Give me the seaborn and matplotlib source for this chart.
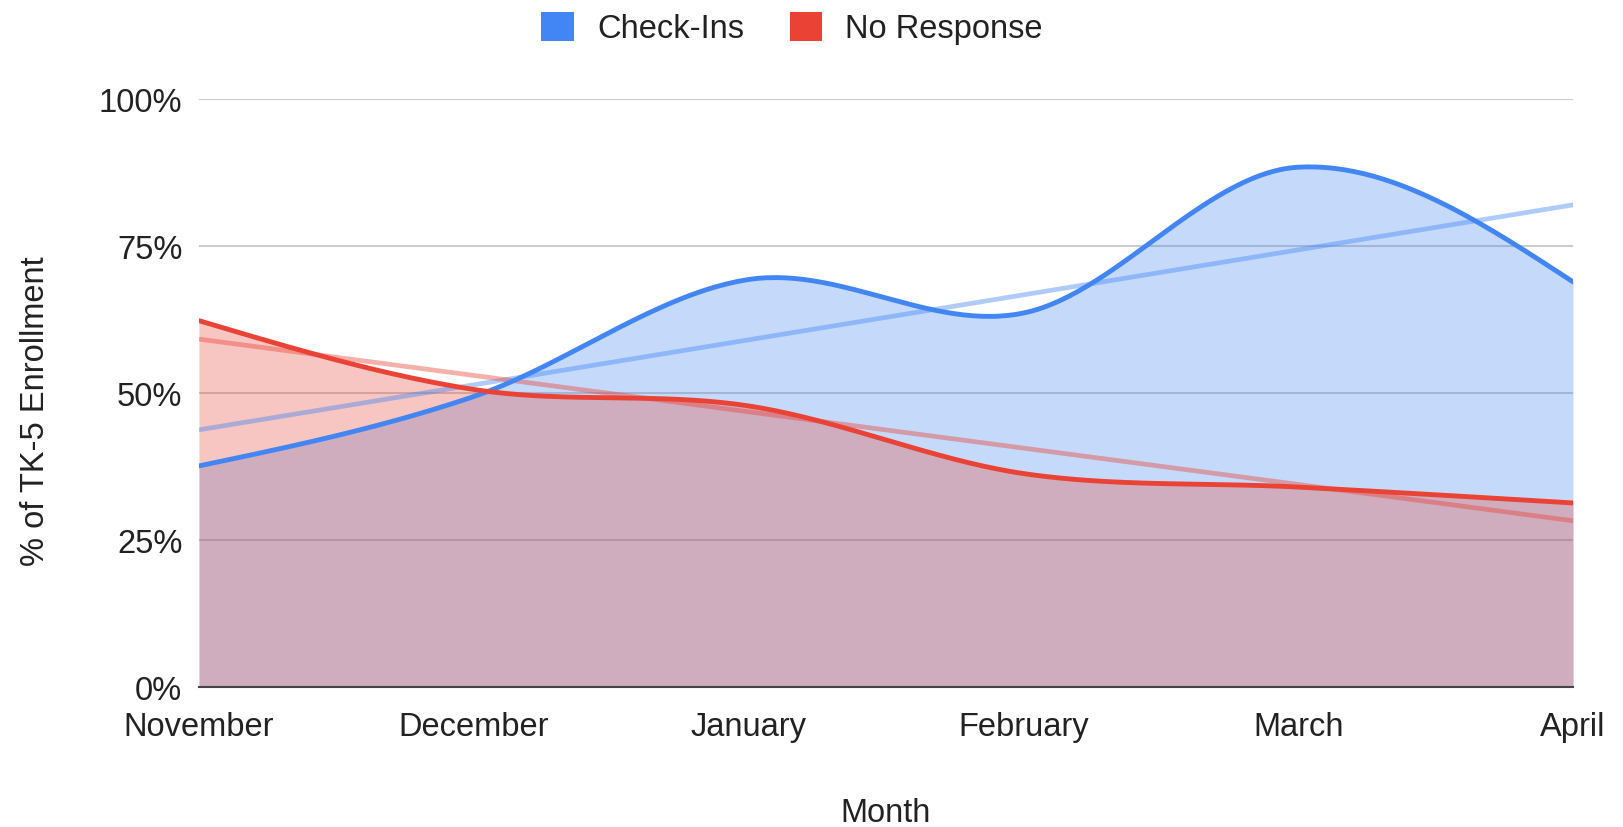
import numpy as np
import pandas as pd
import matplotlib
matplotlib.use("Agg")
import matplotlib.pyplot as plt
from matplotlib.patches import Patch
from matplotlib.ticker import FuncFormatter
import seaborn as sns

# ---- data ----
months = ["November", "December", "January", "February", "March", "April"]
check_ins = [37.6, 49.4, 69.3, 63.6, 88.4, 68.9]
no_response = [62.3, 50.6, 47.8, 36.3, 34.0, 31.3]
y_ticks = [0, 25, 50, 75, 100]
series_names = ["Check-Ins", "No Response"]

BLUE = "#4285F4"
RED = "#EA4335"
TXT = "#222222"
FS = 23.5


def smooth(vals, n=60):
    """Cubic Hermite curve through the points (chart-style smoothing)."""
    p = np.asarray(vals, float)
    k = len(p)
    m = np.zeros(k)
    m[1:-1] = (p[2:] - p[:-2]) / 2.0
    m[0] = 1.5 * (p[1] - p[0]) - 0.5 * m[1]
    m[-1] = 1.5 * (p[-1] - p[-2]) - 0.5 * m[-2]
    xs, ys = [], []
    for i in range(k - 1):
        t = np.linspace(0, 1, n, endpoint=(i == k - 2))
        h00 = 2 * t**3 - 3 * t**2 + 1
        h10 = t**3 - 2 * t**2 + t
        h01 = -2 * t**3 + 3 * t**2
        h11 = t**3 - t**2
        ys.append(h00 * p[i] + h10 * m[i] + h01 * p[i + 1] + h11 * m[i + 1])
        xs.append(i + t)
    return np.concatenate(xs), np.concatenate(ys)


sns.set_theme(style="white")
plt.rcParams["font.family"] = ["Liberation Sans", "DejaVu Sans"]

fig = plt.figure(figsize=(16.23, 8.28), dpi=100)
ax = fig.add_axes([199 / 1623, 1 - 688 / 828, 1374 / 1623, 588 / 828])

idx = np.arange(len(months))
bx, by = smooth(check_ins)
rx, ry = smooth(no_response)

# areas
ax.fill_between(bx, 0, by, color=BLUE, alpha=0.3, linewidth=0, zorder=1)
ax.fill_between(rx, 0, ry, color=RED, alpha=0.3, linewidth=0, zorder=1.1)

# trend lines
sns.regplot(x=idx, y=check_ins, scatter=False, ci=None, truncate=True, ax=ax,
            line_kws=dict(color=BLUE, alpha=0.42, lw=3.4, zorder=2))
sns.regplot(x=idx, y=no_response, scatter=False, ci=None, truncate=True, ax=ax,
            line_kws=dict(color=RED, alpha=0.42, lw=3.4, zorder=2))

# smoothed series lines
sns.lineplot(x=bx, y=by, color=BLUE, lw=3.5, ax=ax, zorder=3, sort=False)
sns.lineplot(x=rx, y=ry, color=RED, lw=3.5, ax=ax, zorder=3.1, sort=False)

ax.set_xlim(0, len(months) - 1)
ax.set_ylim(0, 100)
ax.set_xticks(idx)
ax.set_xticklabels(months)
ax.set_yticks(y_ticks)
ax.yaxis.set_major_formatter(FuncFormatter(lambda v, _: f"{v:.0f}%"))

ax.grid(axis="y", color="#cccccc", lw=1.5)
ax.grid(axis="x", visible=False)
ax.set_axisbelow(True)
for s in ["top", "right", "left"]:
    ax.spines[s].set_visible(False)
ax.spines["bottom"].set_color("#444444")
ax.spines["bottom"].set_linewidth(1.5)
ax.spines["bottom"].set_zorder(4)

ax.tick_params(axis="both", length=0, labelsize=FS, labelcolor=TXT)
ax.tick_params(axis="x", pad=17.5)
ax.tick_params(axis="y", pad=12)

ax.set_xlabel("Month", fontsize=FS, color=TXT, va="center")
ax.xaxis.set_label_coords(0.5, (688 - 814) / 588)
ax.set_ylabel("% of TK-5 Enrollment", fontsize=FS, color=TXT, va="center")
ax.yaxis.set_label_coords(-(199 - 36) / 1374, (688 - 411) / 588)

handles = [Patch(facecolor=BLUE, edgecolor="none"), Patch(facecolor=RED, edgecolor="none")]
leg = fig.legend(handles, series_names, loc="center", bbox_to_anchor=(0.488, 0.965),
                 ncol=2, frameon=False, fontsize=FS, handlelength=1.0, handleheight=1.0,
                 handletextpad=0.7, columnspacing=1.4)
for t in leg.get_texts():
    t.set_color(TXT)

fig.savefig("out.png", dpi=100)
